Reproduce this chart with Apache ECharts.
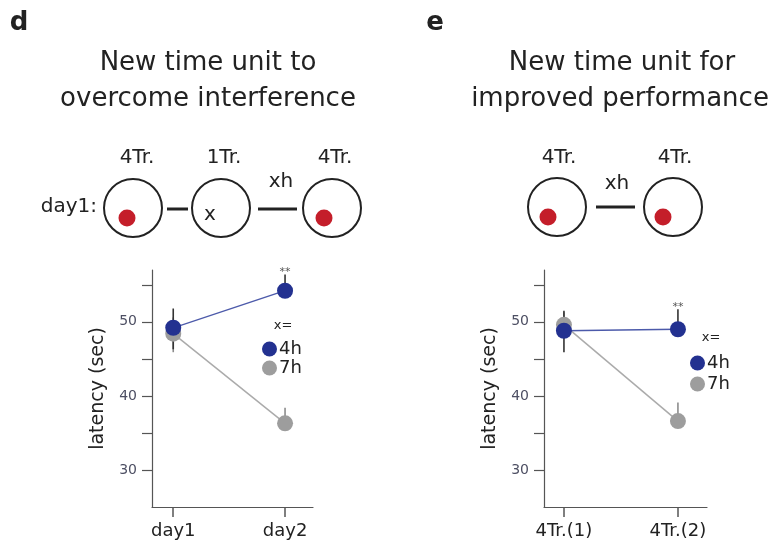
<!DOCTYPE html>
<html>
<head>
<meta charset="utf-8">
<script src="https://cdn.jsdelivr.net/npm/echarts@6/dist/echarts.min.js"></script>
<style>
  html, body { margin: 0; padding: 0; background: #fff; }
  #chart { width: 779px; height: 549px; }
</style>
</head>
<body>
<div id="chart"></div>
<script>
  // panel d
  const catsD = ['day1', 'day2'];
  const d4h = [49.2, 54.2];
  const d7h = [48.4, 36.3];
  const d4hErr = [[46.3, 51.8], [54.2, 56.4]];
  const d7hErr = [[45.9, 50.6], [36.3, 38.4]];
  const sigD = ['', '**'];
  // panel e
  const catsE = ['4Tr.(1)', '4Tr.(2)'];
  const e4h = [48.8, 49.0];
  const e7h = [49.6, 36.6];
  const e4hErr = [[45.9, 51.5], [49.0, 51.7]];
  const e7hErr = [[47.8, 51.3], [36.6, 39.1]];
  const sigE = ['', '**'];
  const yTicks = [30, 35, 40, 45, 50, 55];
  const yLabels = [30, 40, 50];

  const FONT = 'DejaVu Sans, Liberation Sans, sans-serif';
  const BLUE = '#233190';
  const GRAY = '#9d9d9d';
  const RED = '#c41e2a';
  const INK = '#222';

  let chart = echarts.init(document.getElementById('chart'));

  function pts(vals) {
    return vals.map(function (v, i) { return [i, v]; });
  }
  function errData(err, sig) {
    return err.map(function (e, i) { return [i, e[0], e[1], sig ? sig[i] : '']; });
  }

  function errSeries(idx, err, sig, color) {
    return {
      type: 'custom',
      xAxisIndex: idx,
      yAxisIndex: idx,
      z: 1,
      clip: false,
      silent: true,
      encode: { x: 0, y: [1, 2] },
      data: errData(err, sig),
      renderItem: function (params, api) {
        let lo = api.coord([api.value(0), api.value(1)]);
        let hi = api.coord([api.value(0), api.value(2)]);
        let kids = [{
          type: 'line',
          shape: { x1: lo[0], y1: lo[1], x2: hi[0], y2: hi[1] },
          style: { stroke: color, lineWidth: 1.6 }
        }];
        let s = api.value(3);
        if (s) {
          kids.push({
            type: 'text',
            style: {
              x: hi[0], y: hi[1] - 2, text: s, fill: '#555',
              font: '11px ' + FONT, align: 'center', verticalAlign: 'middle'
            }
          });
        }
        return { type: 'group', children: kids };
      }
    };
  }

  function lineSeries(idx, name, vals, color, lineColor, lw) {
    return {
      name: name,
      type: 'line',
      xAxisIndex: idx,
      yAxisIndex: idx,
      z: 2,
      data: pts(vals),
      symbol: 'circle',
      symbolSize: 16,
      itemStyle: { color: color },
      lineStyle: { color: lineColor, width: lw },
      emphasis: { disabled: true }
    };
  }

  function xAxis(idx, cats, min, max) {
    return {
      type: 'value',
      gridIndex: idx,
      min: min,
      max: max,
      splitLine: { show: false },
      axisLine: { onZero: false, lineStyle: { color: '#555', width: 1.2 } },
      axisTick: { customValues: [0, 1], length: 10, lineStyle: { color: '#555', width: 1.5 } },
      axisLabel: {
        customValues: [0, 1],
        margin: 15,
        color: INK,
        fontSize: 18,
        fontFamily: FONT,
        formatter: function (v) { return cats[Math.round(v)]; }
      }
    };
  }

  function yAxis(idx) {
    return {
      type: 'value',
      gridIndex: idx,
      min: 25,
      max: 57,
      name: 'latency (sec)',
      nameLocation: 'middle',
      nameRotate: 90,
      nameGap: 44,
      nameTextStyle: { color: INK, fontSize: 19, fontFamily: FONT },
      splitLine: { show: false },
      axisLine: { onZero: false, lineStyle: { color: '#555', width: 1.2 } },
      axisTick: { customValues: yTicks, length: 10, lineStyle: { color: '#555', width: 1.2 } },
      axisLabel: { customValues: yLabels, margin: 15, color: '#4d4f63', fontSize: 14, fontFamily: FONT }
    };
  }

  function txt(x, y, s, size, weight) {
    return {
      type: 'text',
      x: x,
      y: y,
      style: {
        text: s, fill: INK, font: (weight || '') + ' ' + size + 'px ' + FONT,
        align: 'center', verticalAlign: 'middle'
      }
    };
  }
  function ring(x, y) {
    return { type: 'circle', shape: { cx: x, cy: y, r: 29 }, style: { fill: 'none', stroke: INK, lineWidth: 2 } };
  }
  function dot(x, y) {
    return { type: 'circle', shape: { cx: x, cy: y, r: 8.5 }, style: { fill: RED } };
  }
  function bar(x1, x2, y) {
    return { type: 'line', shape: { x1: x1, y1: y, x2: x2, y2: y }, style: { stroke: INK, lineWidth: 3 } };
  }

  let graphics = [
    txt(19, 23, 'd', 26, 'bold'),
    txt(435, 23, 'e', 26, 'bold'),
    txt(208, 63, 'New time unit to', 26),
    txt(208, 99, 'overcome interference', 26),
    txt(622, 63, 'New time unit for', 26),
    txt(620, 99, 'improved performance', 26),
    // panel d protocol
    txt(137, 158, '4Tr.', 20), txt(224, 158, '1Tr.', 20), txt(335, 158, '4Tr.', 20),
    txt(281, 182, 'xh', 20),
    { type: 'text', x: 97, y: 207, style: { text: 'day1:', fill: INK, font: '20px ' + FONT, align: 'right', verticalAlign: 'middle' } },
    ring(133, 208), ring(221, 208), ring(332, 208),
    dot(127, 218), dot(324, 218),
    txt(210, 215, 'x', 20),
    bar(167, 188, 209), bar(258, 297, 209),
    // panel e protocol
    txt(559, 158, '4Tr.', 20), txt(675, 158, '4Tr.', 20),
    txt(617, 184, 'xh', 20),
    ring(557, 207), ring(673, 207),
    dot(548, 217), dot(663, 217),
    bar(596, 635, 207),
    // legend headers
    txt(283, 326, 'x=', 13),
    txt(711, 338, 'x=', 13)
  ];

  let option = {
    animation: false,
    textStyle: { fontFamily: FONT },
    graphic: graphics,
    grid: [
      { left: 152, top: 270, width: 161, height: 237 },
      { left: 544, top: 270, width: 163, height: 237 }
    ],
    xAxis: [xAxis(0, catsD, -0.19, 1.25), xAxis(1, catsE, -0.175, 1.255)],
    yAxis: [yAxis(0), yAxis(1)],
    legend: [
      {
        data: ['4h', '7h'], orient: 'vertical', left: 262, top: 340, padding: 0,
        icon: 'circle', itemWidth: 15, itemHeight: 15, itemGap: 1, selectedMode: false,
        textStyle: { color: INK, fontSize: 18, fontFamily: FONT, padding: [0, 0, 0, -3] }
      },
      {
        data: ['4h', '7h'], orient: 'vertical', left: 690, top: 354, padding: 0,
        icon: 'circle', itemWidth: 15, itemHeight: 15, itemGap: 3, selectedMode: false,
        textStyle: { color: INK, fontSize: 18, fontFamily: FONT, padding: [0, 0, 0, -3] }
      }
    ],
    series: [
      errSeries(0, d7hErr, null, '#8c8c8c'),
      errSeries(0, d4hErr, sigD, '#333'),
      lineSeries(0, '7h', d7h, GRAY, '#ababab', 1.5),
      lineSeries(0, '4h', d4h, BLUE, '#4c5aaa', 1.3),
      errSeries(1, e7hErr, null, '#8c8c8c'),
      errSeries(1, e4hErr, sigE, '#333'),
      lineSeries(1, '7h', e7h, GRAY, '#ababab', 1.5),
      lineSeries(1, '4h', e4h, BLUE, '#4c5aaa', 1.3)
    ]
  };
  chart.setOption(option);
</script>
</body>
</html>
